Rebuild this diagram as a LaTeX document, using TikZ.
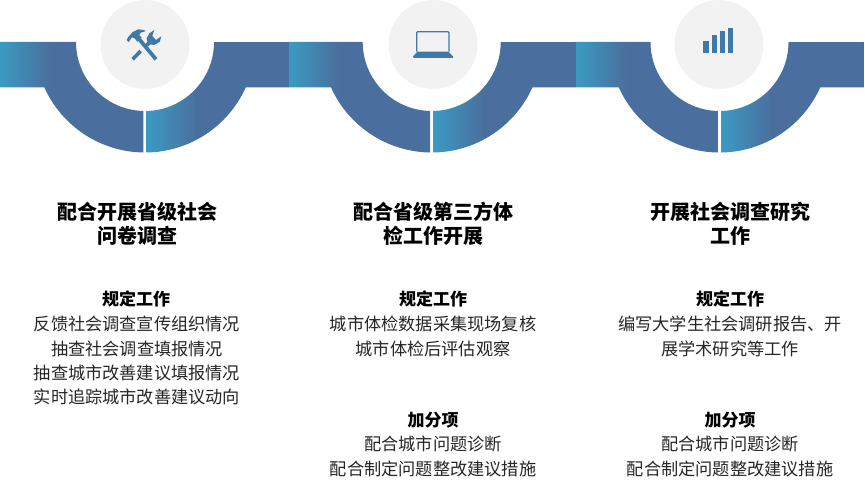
\documentclass[tikz,border=0pt]{standalone}
\usepackage{fontspec}
\newfontfamily\cjk{Noto Sans CJK SC}
\definecolor{bandlight}{HTML}{3B9AC2}
\definecolor{banddark}{HTML}{4A6F9E}
\definecolor{iconblue}{HTML}{4078A8}
\definecolor{discgrey}{HTML}{F2F2F2}
\definecolor{bodytext}{HTML}{262626}
\pgfdeclarehorizontalshading{bandfade}{100bp}{color(0bp)=(bandlight); color(25bp)=(bandlight); color(42.5bp)=(banddark); color(100bp)=(banddark)}
\tikzset{
  titletext/.style={font=\cjk\bfseries\fontsize{20}{24}\selectfont,text=black,inner sep=0pt,anchor=center},
  headtext/.style={font=\cjk\bfseries\fontsize{17}{20}\selectfont,text=black,inner sep=0pt,anchor=center},
  bodyline/.style={font=\cjk\fontsize{17.2}{20}\selectfont,text=bodytext,inner sep=0pt,anchor=center},
  disc/.style={circle,fill=discgrey,draw=none,minimum size=89pt,inner sep=0pt},
  band/.style={shading=bandfade,draw=none},
  iconline/.style={draw=iconblue,line cap=butt},
  iconfill/.style={fill=iconblue,draw=none}
}
% #1 arc centre, #2 left end, #3 right end, #4 disc centre, #5 node name
\newcommand{\bandunit}[5]{%
  \shade[band] (#2,42) -- ({#1-69},42) arc[start angle=180,end angle=91.4,radius=69]
     -- ({#1-1.7},152.5) arc[start angle=90.9,end angle=155.7,radius=110.5]
     -- (#2,87.5) -- cycle;
  \shade[band] ({#1+1.7},111) arc[start angle=88.6,end angle=0,radius=69]
     -- (#3,42) -- (#3,87.5) -- ({#1+100.7},87.5)
     arc[start angle=24.3,end angle=89.1,radius=110.5] -- cycle;
  \node[disc] (#5) at (#4,44.5) {};
}
\begin{document}
\begin{tikzpicture}[x=1pt,y=-1pt]
\useasboundingbox (0,0) rectangle (865,487);
\bandunit{145}{0}{289}{145}{discA}
\bandunit{431.7}{289}{576}{433}{discB}
\bandunit{719.5}{576}{864.5}{719}{discC}
% tools icon
\begin{scope}[shift={(120,20)},x=.3333pt,y=-.3333pt]
  \draw[iconline,line width=3.6pt] (38,118) -- (62,93);
  \draw[iconline,line width=3.6pt] (76,80) -- (90,66);
  \fill[iconfill] (84,72) -- (80,55) -- (88,40) -- (103,30) -- (97,48) -- (108,60) -- (124,49) -- (119,66) -- (102,75) -- cycle;
  \draw[iconline,line width=3.8pt] (58,58) -- (108,118);
  \fill[iconfill] (20,60) -- (24,52) -- (38,36) -- (55,28) -- (72,30) -- (76,34) -- (62,38) -- (58,46) -- (65,53) -- (52,65) -- (44,55) -- (36,52) -- (26,66) -- cycle;
\end{scope}
% laptop icon
\begin{scope}[shift={(280,0)},x=.3333pt,y=-.3333pt]
  \draw[iconline,line width=1.2pt,rounded corners=1pt] (410,155) -- (410,95) -- (507,95) -- (507,155);
  \fill[iconfill] (412,155) -- (505,155) -- (520,170) -- (518,174) -- (401,174) -- (399,170) -- cycle;
\end{scope}
% bars icon
\begin{scope}[shift={(565,0)},x=.3333pt,y=-.3333pt]
  \fill[iconfill] (415,122) rectangle (431,160);
  \fill[iconfill] (440,106) rectangle (456,160);
  \fill[iconfill] (464,92) rectangle (480,160);
  \fill[iconfill] (489,83) rectangle (505,160);
\end{scope}
% column 1
\node[titletext] (a1) at (137,212) {配合开展省级社会};
\node[titletext] (a2) at (137,236) {问卷调查};
\node[headtext] (a3) at (136,299) {规定工作};
\node[bodyline] (a4) at (137,324) {反馈社会调查宣传组织情况};
\node[bodyline] (a5) at (137,349) {抽查社会调查填报情况};
\node[bodyline] (a6) at (137,373) {抽查城市改善建议填报情况};
\node[bodyline] (a7) at (137,397) {实时追踪城市改善建议动向};
% column 2
\node[titletext] (b1) at (433,212) {配合省级第三方体};
\node[titletext] (b2) at (433,236) {检工作开展};
\node[headtext] (b3) at (433,299) {规定工作};
\node[bodyline] (b4) at (433,324) {城市体检数据采集现场复核};
\node[bodyline] (b5) at (433,349) {城市体检后评估观察};
\node[headtext] (b6) at (433,420) {加分项};
\node[bodyline] (b7) at (433,444) {配合城市问题诊断};
\node[bodyline] (b8) at (433,469) {配合制定问题整改建议措施};
% column 3
\node[titletext] (c1) at (730,212) {开展社会调查研究};
\node[titletext] (c2) at (730,236) {工作};
\node[headtext] (c3) at (730,299) {规定工作};
\node[bodyline] (c4) at (730,324) {编写大学生社会调研报告、开};
\node[bodyline] (c5) at (730,349) {展学术研究等工作};
\node[headtext] (c6) at (730,420) {加分项};
\node[bodyline] (c7) at (730,444) {配合城市问题诊断};
\node[bodyline] (c8) at (730,469) {配合制定问题整改建议措施};
\end{tikzpicture}
\end{document}
